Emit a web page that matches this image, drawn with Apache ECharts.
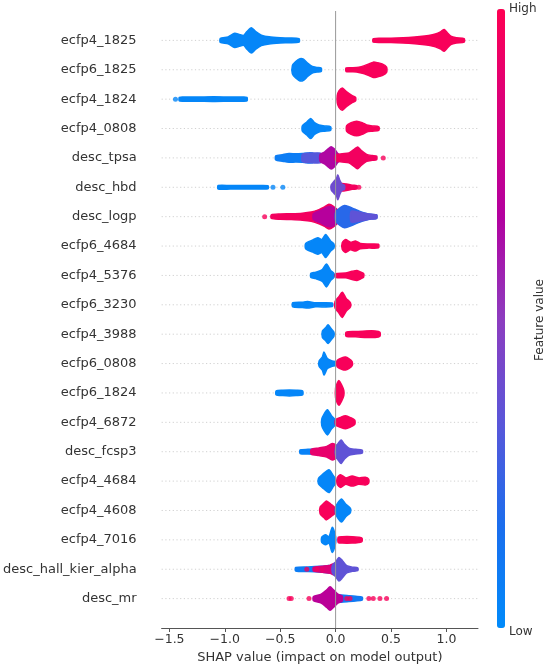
<!DOCTYPE html>
<html>
<head>
<meta charset="utf-8">
<script src="https://cdn.jsdelivr.net/npm/echarts@6/dist/echarts.min.js"></script>
<style>
  html, body { margin: 0; padding: 0; background: #fff; }
  #main { width: 550px; height: 669px; }
</style>
</head>
<body>
<div id="main"></div>
<script>
// features, top to bottom
const features = [
  'ecfp4_1825', 'ecfp6_1825', 'ecfp4_1824', 'ecfp4_0808', 'desc_tpsa',
  'desc_hbd', 'desc_logp', 'ecfp6_4684', 'ecfp4_5376', 'ecfp6_3230',
  'ecfp4_3988', 'ecfp6_0808', 'ecfp6_1824', 'ecfp4_6872', 'desc_fcsp3',
  'ecfp4_4684', 'ecfp4_4608', 'ecfp4_7016', 'desc_hall_kier_alpha', 'desc_mr'
];

const xTicks = [-1.5, -1.0, -0.5, 0.0, 0.5, 1.0];

// dense part of each swarm: [feature, feature value (0 low .. 1 high), [[shap, half height in rows], ...]]
const blobs = [
  ['ecfp4_1825', 0.03, [[-1.04,0.07],[-0.97,0.12],[-0.91,0.24],[-0.87,0.2],[-0.83,0.17],[-0.8,0.3],[-0.76,0.43],[-0.72,0.3],[-0.67,0.18],[-0.6,0.12],[-0.5,0.09],[-0.42,0.08],[-0.33,0.06]]],
  ['ecfp4_1825', 0.97, [[0.34,0.06],[0.45,0.07],[0.55,0.08],[0.66,0.1],[0.76,0.13],[0.84,0.17],[0.9,0.22],[0.95,0.3],[0.98,0.37],[1.01,0.25],[1.04,0.14],[1.09,0.09],[1.16,0.06]]],
  ['ecfp6_1825', 0.03, [[-0.39,0.14],[-0.36,0.28],[-0.32,0.38],[-0.29,0.36],[-0.25,0.22],[-0.21,0.11],[-0.17,0.08],[-0.13,0.06]]],
  ['ecfp6_1825', 0.97, [[0.095,0.06],[0.15,0.07],[0.21,0.09],[0.26,0.14],[0.3,0.2],[0.34,0.26],[0.38,0.24],[0.42,0.2],[0.46,0.09]]],
  ['ecfp4_1824', 0.03, [[-1.41,0.06],[-1.36,0.07],[-1.25,0.07],[-1.1,0.08],[-0.95,0.07],[-0.85,0.07],[-0.8,0.06]]],
  ['ecfp4_1824', 0.97, [[0.015,0.12],[0.03,0.28],[0.06,0.38],[0.085,0.3],[0.11,0.22],[0.15,0.12],[0.18,0.06]]],
  ['ecfp4_0808', 0.03, [[-0.3,0.09],[-0.26,0.22],[-0.225,0.34],[-0.19,0.2],[-0.15,0.12],[-0.1,0.09],[-0.045,0.06]]],
  ['ecfp4_0808', 0.97, [[0.1,0.1],[0.14,0.2],[0.19,0.25],[0.24,0.2],[0.28,0.12],[0.33,0.09],[0.39,0.06]]],
  ['desc_tpsa', 0.08, [[-0.54,0.07],[-0.48,0.11],[-0.42,0.15],[-0.36,0.14],[-0.3,0.15],[-0.25,0.17],[-0.2,0.15]]],
  ['desc_tpsa', 0.32, [[-0.3,0.12],[-0.24,0.16],[-0.18,0.17],[-0.13,0.15]]],
  ['desc_tpsa', 0.65, [[-0.14,0.12],[-0.1,0.2],[-0.07,0.3],[-0.04,0.38],[-0.01,0.3],[0.02,0.15],[0.04,0.08]]],
  ['desc_tpsa', 0.95, [[0.0,0.1],[0.06,0.14],[0.12,0.17],[0.17,0.3],[0.2,0.37],[0.23,0.26],[0.28,0.12],[0.33,0.08],[0.37,0.06]]],
  ['desc_hbd', 0.03, [[-1.06,0.06],[-0.95,0.06],[-0.8,0.06],[-0.7,0.06],[-0.61,0.05]]],
  ['desc_hbd', 0.95, [[0.02,0.09],[0.06,0.13],[0.1,0.11],[0.15,0.07],[0.19,0.06]]],
  ['desc_hbd', 0.4, [[-0.04,0.08],[-0.015,0.2],[0.01,0.32],[0.02,0.42],[0.04,0.22],[0.06,0.1],[0.08,0.07]]],
  ['desc_logp', 0.95, [[-0.58,0.06],[-0.5,0.09],[-0.4,0.1],[-0.3,0.12],[-0.22,0.16],[-0.15,0.24],[-0.1,0.33],[-0.06,0.42],[-0.02,0.35],[0.02,0.2]]],
  ['desc_logp', 0.68, [[-0.2,0.1],[-0.13,0.22],[-0.08,0.32],[-0.04,0.34],[0.0,0.26],[0.03,0.15]]],
  ['desc_logp', 0.2, [[0.0,0.15],[0.04,0.3],[0.08,0.38],[0.12,0.34],[0.17,0.26],[0.22,0.18],[0.27,0.12],[0.32,0.08],[0.37,0.06]]],
  ['desc_logp', 0.35, [[0.14,0.18],[0.2,0.16],[0.27,0.11],[0.32,0.08],[0.37,0.06]]],
  ['ecfp6_4684', 0.03, [[-0.27,0.09],[-0.21,0.2],[-0.16,0.28],[-0.125,0.22],[-0.09,0.39],[-0.045,0.17],[-0.015,0.07]]],
  ['ecfp6_4684', 0.97, [[0.06,0.11],[0.09,0.22],[0.134,0.13],[0.18,0.17],[0.223,0.09],[0.3,0.07],[0.387,0.06]]],
  ['ecfp4_5376', 0.03, [[-0.223,0.07],[-0.18,0.11],[-0.12,0.2],[-0.083,0.39],[-0.045,0.17],[-0.015,0.07]]],
  ['ecfp4_5376', 0.97, [[0.0,0.06],[0.09,0.08],[0.149,0.14],[0.193,0.17],[0.23,0.11],[0.253,0.06]]],
  ['ecfp6_3230', 0.03, [[-0.387,0.07],[-0.3,0.09],[-0.253,0.11],[-0.18,0.07],[-0.03,0.06]]],
  ['ecfp6_3230', 0.97, [[-0.005,0.11],[0.03,0.28],[0.06,0.43],[0.095,0.22],[0.134,0.07]]],
  ['ecfp4_3988', 0.03, [[-0.119,0.11],[-0.09,0.22],[-0.068,0.32],[-0.036,0.17],[-0.015,0.07]]],
  ['ecfp4_3988', 0.97, [[0.095,0.07],[0.18,0.09],[0.27,0.11],[0.357,0.11],[0.4,0.07]]],
  ['ecfp6_0808', 0.03, [[-0.149,0.09],[-0.12,0.22],[-0.104,0.39],[-0.074,0.17],[-0.03,0.09],[0.0,0.07],[0.03,0.06]]],
  ['ecfp6_0808', 0.97, [[0.015,0.11],[0.06,0.2],[0.09,0.22],[0.119,0.17],[0.149,0.07]]],
  ['ecfp6_1824', 0.03, [[-0.536,0.07],[-0.476,0.09],[-0.417,0.1],[-0.357,0.09],[-0.298,0.07]]],
  ['ecfp6_1824', 0.97, [[0.0,0.17],[0.015,0.34],[0.03,0.42],[0.054,0.28],[0.074,0.09]]],
  ['ecfp4_6872', 0.03, [[-0.125,0.11],[-0.104,0.28],[-0.074,0.43],[-0.036,0.22],[0.0,0.07]]],
  ['ecfp4_6872', 0.97, [[0.0,0.09],[0.045,0.17],[0.09,0.22],[0.134,0.16],[0.173,0.07]]],
  ['desc_fcsp3', 0.05, [[-0.32,0.06],[-0.25,0.08],[-0.18,0.09],[-0.1,0.1]]],
  ['desc_fcsp3', 0.9, [[-0.22,0.08],[-0.15,0.13],[-0.08,0.18],[-0.03,0.28],[0.01,0.2]]],
  ['desc_fcsp3', 0.35, [[0.0,0.15],[0.03,0.32],[0.05,0.4],[0.08,0.25],[0.12,0.12],[0.18,0.08],[0.24,0.05]]],
  ['ecfp4_4684', 0.03, [[-0.155,0.09],[-0.12,0.22],[-0.06,0.39],[-0.024,0.2],[0.0,0.07]]],
  ['ecfp4_4684', 0.97, [[0.015,0.11],[0.045,0.22],[0.09,0.11],[0.149,0.17],[0.208,0.11],[0.268,0.13],[0.298,0.07]]],
  ['ecfp4_4608', 0.97, [[-0.14,0.11],[-0.104,0.25],[-0.083,0.32],[-0.045,0.22],[-0.006,0.09]]],
  ['ecfp4_4608', 0.03, [[0.0,0.11],[0.024,0.28],[0.054,0.39],[0.09,0.22],[0.134,0.07]]],
  ['ecfp4_7016', 0.03, [[-0.125,0.09],[-0.09,0.17],[-0.06,0.11],[-0.03,0.43],[0.0,0.11]]],
  ['ecfp4_7016', 0.97, [[0.024,0.09],[0.06,0.11],[0.149,0.11],[0.208,0.09],[0.238,0.06]]],
  ['desc_hall_kier_alpha', 0.08, [[-0.36,0.06],[-0.25,0.08],[-0.12,0.1],[-0.05,0.12]]],
  ['desc_hall_kier_alpha', 0.85, [[-0.2,0.06],[-0.12,0.1],[-0.05,0.14],[0.0,0.2]]],
  ['desc_hall_kier_alpha', 0.35, [[-0.03,0.12],[0.0,0.25],[0.03,0.4],[0.06,0.3],[0.1,0.12],[0.15,0.07],[0.2,0.05]]],
  ['desc_mr', 0.1, [[-0.02,0.1],[0.05,0.12],[0.12,0.1],[0.18,0.08],[0.24,0.05]]],
  ['desc_mr', 0.7, [[-0.2,0.07],[-0.13,0.15],[-0.08,0.3],[-0.05,0.4],[-0.02,0.3],[0.02,0.15],[0.06,0.08]]]
];

// isolated points: [feature, shap, feature value]
const strayDots = [
  ['ecfp4_1824', -1.445, 0.03],
  ['desc_tpsa', 0.43, 0.97],
  ['desc_hbd', -0.565, 0.03], ['desc_hbd', -0.476, 0.03], ['desc_hbd', 0.21, 0.97],
  ['desc_logp', -0.64, 0.97],
  ['desc_hall_kier_alpha', -0.26, 0.95], ['desc_hall_kier_alpha', -0.17, 0.95], ['desc_hall_kier_alpha', -0.12, 0.9],
  ['desc_mr', -0.42, 0.97], ['desc_mr', -0.40, 0.97], ['desc_mr', -0.24, 0.97],
  ['desc_mr', 0.10, 0.97], ['desc_mr', 0.13, 0.97], ['desc_mr', 0.30, 0.97],
  ['desc_mr', 0.34, 0.97], ['desc_mr', 0.40, 0.97], ['desc_mr', 0.46, 0.97]
];

const rowOf = {};
features.forEach((f, i) => { rowOf[f] = features.length - 1 - i; });

let myChart = echarts.init(document.getElementById('main'));

const font = 'DejaVu Sans';

myChart.setOption({
  animation: false,
  backgroundColor: '#fff',
  grid: { left: 160, right: 72, top: 11, bottom: 37 },
  xAxis: {
    type: 'value',
    min: -1.57,
    max: 1.285,
    name: 'SHAP value (impact on model output)',
    nameLocation: 'middle',
    nameGap: 23,
    nameTextStyle: { fontFamily: font, fontSize: 13, color: '#333' },
    axisLine: { onZero: false, lineStyle: { color: '#555', width: 1 } },
    axisTick: { customValues: xTicks, length: 4, lineStyle: { color: '#555' } },
    axisLabel: {
      customValues: xTicks,
      margin: 5,
      fontFamily: font, fontSize: 12.5, color: '#333',
      formatter: v => v.toFixed(1).replace('-', '\u2212')
    },
    splitLine: { show: false }
  },
  yAxis: {
    type: 'value',
    min: -1,
    max: 20,
    interval: 1,
    axisLine: { show: false },
    axisTick: { show: false },
    splitLine: { show: false },
    axisLabel: {
      margin: 25,
      fontFamily: font, fontSize: 13, color: '#333',
      formatter: v => (v >= 0 && v < features.length) ? features[features.length - 1 - v] : ''
    }
  },
  visualMap: {
    type: 'continuous',
    min: 0,
    max: 1,
    dimension: 2,
    seriesIndex: [1, 2],
    calculable: false,
    hoverLink: false,
    orient: 'vertical',
    left: 497,
    top: 9,
    padding: 0,
    itemWidth: 8,
    itemHeight: 619,
    inRange: { color: ['#008bfb', '#1b6ded', '#5a56d9', '#8d3cbf', '#b3009f', '#d8007d', '#ff0052'] }
  },
  graphic: [
    { type: 'text', x: 509, y: 9, style: { text: 'High', fontFamily: font, fontSize: 12, fill: '#333', verticalAlign: 'middle' } },
    { type: 'text', x: 509, y: 632, style: { text: 'Low', fontFamily: font, fontSize: 12, fill: '#333', verticalAlign: 'middle' } },
    { type: 'text', x: 540, y: 320, rotation: Math.PI / 2,
      style: { text: 'Feature value', fontFamily: font, fontSize: 12, fill: '#333', align: 'center', verticalAlign: 'middle' } }
  ],
  series: [
    {
      // dotted row guides
      type: 'custom',
      silent: true,
      z: 1,
      data: features.map(f => [0, rowOf[f]]),
      encode: { x: 0, y: 1 },
      renderItem: (params, api) => {
        const cs = params.coordSys;
        const y = api.coord([0, api.value(1)])[1];
        return {
          type: 'line',
          shape: { x1: cs.x, y1: y, x2: cs.x + cs.width, y2: y },
          style: { stroke: '#d0d0d0', lineWidth: 1, lineDash: [1.2, 2.5] }
        };
      }
    },
    {
      type: 'custom',
      silent: true,
      z: 2,
      data: blobs.map(b => [b[2][0][0], rowOf[b[0]], b[1]]),
      encode: { x: 0, y: 1 },
      renderItem: (params, api) => {
        const b = blobs[params.dataIndex];
        const row = rowOf[b[0]];
        const prof = b[2];
        const top = prof.map(p => api.coord([p[0], row + p[1]]));
        const bot = prof.slice().reverse().map(p => api.coord([p[0], row - p[1]]));
        const c = api.visual('color');
        return {
          type: 'polygon',
          shape: { points: top.concat(bot), smooth: 0.25 },
          style: { fill: c, stroke: c, lineWidth: 1.5, lineJoin: 'round' }
        };
      }
    },
    {
      type: 'scatter',
      silent: true,
      z: 3,
      symbolSize: 5,
      data: strayDots.map(d => [d[1], rowOf[d[0]], d[2]])
    },
    {
      // zero line
      type: 'custom',
      silent: true,
      z: 5,
      data: [[0, 0]],
      encode: { x: 0, y: 1 },
      renderItem: (params, api) => {
        const cs = params.coordSys;
        const x = api.coord([0, 0])[0];
        return {
          type: 'line',
          shape: { x1: x, y1: cs.y, x2: x, y2: cs.y + cs.height },
          style: { stroke: '#999', lineWidth: 1 }
        };
      }
    }
  ]
});
</script>
</body>
</html>
